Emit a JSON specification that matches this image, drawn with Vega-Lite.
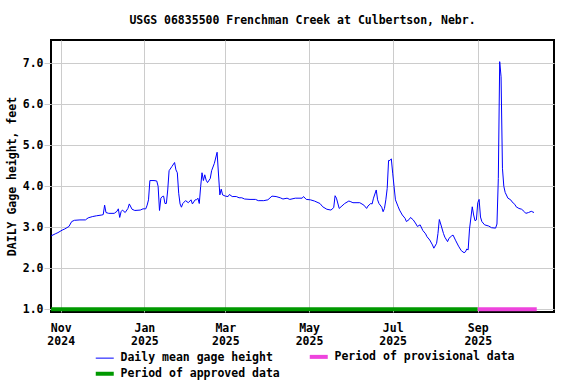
{
  "$schema": "https://vega.github.io/schema/vega-lite/v6.json",
  "width": 503,
  "height": 272,
  "autosize": {"type": "none"},
  "padding": {"left": 51, "top": 40, "right": 22, "bottom": 72},
  "background": "white",
  "config": {
    "font": "DejaVu Sans Mono",
    "view": {"stroke": "black", "strokeWidth": 2},
    "axis": {
      "labelFont": "DejaVu Sans Mono", "labelFontSize": 11.5, "labelFontWeight": "bold", "labelColor": "black",
      "titleFont": "DejaVu Sans Mono", "titleFontSize": 11.5, "titleFontWeight": "bold", "titleColor": "black",
      "gridColor": "#cccccc", "gridOpacity": 1, "gridWidth": 1, "domain": false
    }
  },
  "title": {
    "text": "USGS 06835500 Frenchman Creek at Culbertson, Nebr.",
    "font": "DejaVu Sans Mono", "fontSize": 11.5, "fontWeight": "bold", "color": "black",
    "anchor": "middle", "offset": 5, "baseline": "alphabetic"
  },
  "datasets": {
    "periods": [
      {"d": "2024-10-25", "d2": "2025-09-01", "series": "Period of approved data"},
      {"d": "2025-09-01", "d2": "2025-10-14", "series": "Period of provisional data"}
    ],
    "gage": [
      {"d": "2024-10-25", "v": 2.79}, {"d": "2024-10-28", "v": 2.84}, {"d": "2024-10-30", "v": 2.87},
      {"d": "2024-11-02", "v": 2.93}, {"d": "2024-11-04", "v": 2.96}, {"d": "2024-11-07", "v": 3.02},
      {"d": "2024-11-09", "v": 3.14}, {"d": "2024-11-11", "v": 3.17}, {"d": "2024-11-15", "v": 3.18},
      {"d": "2024-11-19", "v": 3.18}, {"d": "2024-11-21", "v": 3.23}, {"d": "2024-11-24", "v": 3.26},
      {"d": "2024-11-27", "v": 3.28}, {"d": "2024-12-01", "v": 3.30}, {"d": "2024-12-02", "v": 3.31},
      {"d": "2024-12-03", "v": 3.54}, {"d": "2024-12-04", "v": 3.36}, {"d": "2024-12-06", "v": 3.34},
      {"d": "2024-12-10", "v": 3.34}, {"d": "2024-12-12", "v": 3.39}, {"d": "2024-12-13", "v": 3.45},
      {"d": "2024-12-14", "v": 3.24}, {"d": "2024-12-15", "v": 3.38}, {"d": "2024-12-16", "v": 3.42},
      {"d": "2024-12-18", "v": 3.36}, {"d": "2024-12-20", "v": 3.46}, {"d": "2024-12-21", "v": 3.57},
      {"d": "2024-12-23", "v": 3.44}, {"d": "2024-12-25", "v": 3.41}, {"d": "2024-12-29", "v": 3.42},
      {"d": "2024-12-31", "v": 3.45}, {"d": "2025-01-02", "v": 3.45}, {"d": "2025-01-03", "v": 3.54},
      {"d": "2025-01-04", "v": 3.67}, {"d": "2025-01-05", "v": 4.14}, {"d": "2025-01-08", "v": 4.14},
      {"d": "2025-01-10", "v": 4.13}, {"d": "2025-01-11", "v": 4.00}, {"d": "2025-01-12", "v": 3.41},
      {"d": "2025-01-13", "v": 3.71}, {"d": "2025-01-14", "v": 3.75}, {"d": "2025-01-15", "v": 3.76},
      {"d": "2025-01-16", "v": 3.58}, {"d": "2025-01-17", "v": 3.58}, {"d": "2025-01-18", "v": 3.91},
      {"d": "2025-01-19", "v": 4.38}, {"d": "2025-01-21", "v": 4.48}, {"d": "2025-01-23", "v": 4.58},
      {"d": "2025-01-24", "v": 4.40}, {"d": "2025-01-25", "v": 4.33}, {"d": "2025-01-26", "v": 3.83},
      {"d": "2025-01-27", "v": 3.57}, {"d": "2025-01-28", "v": 3.49}, {"d": "2025-01-29", "v": 3.58},
      {"d": "2025-01-31", "v": 3.65}, {"d": "2025-02-02", "v": 3.60}, {"d": "2025-02-04", "v": 3.67},
      {"d": "2025-02-05", "v": 3.57}, {"d": "2025-02-07", "v": 3.67}, {"d": "2025-02-08", "v": 3.67},
      {"d": "2025-02-09", "v": 3.71}, {"d": "2025-02-10", "v": 3.58}, {"d": "2025-02-11", "v": 3.99},
      {"d": "2025-02-12", "v": 4.33}, {"d": "2025-02-13", "v": 4.14}, {"d": "2025-02-14", "v": 4.28},
      {"d": "2025-02-15", "v": 4.15}, {"d": "2025-02-16", "v": 4.09}, {"d": "2025-02-18", "v": 4.19},
      {"d": "2025-02-19", "v": 4.38}, {"d": "2025-02-21", "v": 4.56}, {"d": "2025-02-23", "v": 4.83},
      {"d": "2025-02-24", "v": 4.30}, {"d": "2025-02-25", "v": 3.79}, {"d": "2025-02-26", "v": 3.93},
      {"d": "2025-02-27", "v": 3.79}, {"d": "2025-03-01", "v": 3.76}, {"d": "2025-03-03", "v": 3.75},
      {"d": "2025-03-04", "v": 3.80}, {"d": "2025-03-06", "v": 3.75}, {"d": "2025-03-09", "v": 3.75},
      {"d": "2025-03-11", "v": 3.72}, {"d": "2025-03-13", "v": 3.72}, {"d": "2025-03-15", "v": 3.69},
      {"d": "2025-03-19", "v": 3.68}, {"d": "2025-03-23", "v": 3.68}, {"d": "2025-03-25", "v": 3.65},
      {"d": "2025-03-29", "v": 3.65}, {"d": "2025-04-01", "v": 3.67}, {"d": "2025-04-04", "v": 3.76},
      {"d": "2025-04-07", "v": 3.75}, {"d": "2025-04-10", "v": 3.72}, {"d": "2025-04-12", "v": 3.69},
      {"d": "2025-04-15", "v": 3.71}, {"d": "2025-04-17", "v": 3.68}, {"d": "2025-04-21", "v": 3.71},
      {"d": "2025-04-26", "v": 3.71}, {"d": "2025-04-27", "v": 3.75}, {"d": "2025-04-29", "v": 3.68},
      {"d": "2025-05-02", "v": 3.67}, {"d": "2025-05-05", "v": 3.64}, {"d": "2025-05-09", "v": 3.58},
      {"d": "2025-05-11", "v": 3.50}, {"d": "2025-05-14", "v": 3.44}, {"d": "2025-05-17", "v": 3.42},
      {"d": "2025-05-19", "v": 3.48}, {"d": "2025-05-20", "v": 3.77}, {"d": "2025-05-21", "v": 3.71},
      {"d": "2025-05-23", "v": 3.46}, {"d": "2025-05-25", "v": 3.52}, {"d": "2025-05-27", "v": 3.58},
      {"d": "2025-05-30", "v": 3.64}, {"d": "2025-05-31", "v": 3.63}, {"d": "2025-06-02", "v": 3.60},
      {"d": "2025-06-07", "v": 3.60}, {"d": "2025-06-10", "v": 3.54}, {"d": "2025-06-12", "v": 3.46},
      {"d": "2025-06-13", "v": 3.52}, {"d": "2025-06-15", "v": 3.58}, {"d": "2025-06-16", "v": 3.57},
      {"d": "2025-06-17", "v": 3.71}, {"d": "2025-06-19", "v": 3.91}, {"d": "2025-06-20", "v": 3.67},
      {"d": "2025-06-21", "v": 3.58}, {"d": "2025-06-23", "v": 3.49}, {"d": "2025-06-24", "v": 3.38},
      {"d": "2025-06-25", "v": 3.46}, {"d": "2025-06-26", "v": 3.67}, {"d": "2025-06-27", "v": 3.95},
      {"d": "2025-06-28", "v": 4.63}, {"d": "2025-06-29", "v": 4.63}, {"d": "2025-06-30", "v": 4.67},
      {"d": "2025-07-01", "v": 4.32}, {"d": "2025-07-02", "v": 3.99}, {"d": "2025-07-03", "v": 3.67},
      {"d": "2025-07-05", "v": 3.50}, {"d": "2025-07-06", "v": 3.42}, {"d": "2025-07-08", "v": 3.30},
      {"d": "2025-07-10", "v": 3.22}, {"d": "2025-07-11", "v": 3.14}, {"d": "2025-07-13", "v": 3.19},
      {"d": "2025-07-14", "v": 3.24}, {"d": "2025-07-16", "v": 3.18}, {"d": "2025-07-18", "v": 3.08},
      {"d": "2025-07-19", "v": 3.02}, {"d": "2025-07-21", "v": 3.06}, {"d": "2025-07-23", "v": 2.92},
      {"d": "2025-07-25", "v": 2.84}, {"d": "2025-07-26", "v": 2.77}, {"d": "2025-07-28", "v": 2.69},
      {"d": "2025-07-30", "v": 2.57}, {"d": "2025-07-31", "v": 2.49}, {"d": "2025-08-02", "v": 2.61},
      {"d": "2025-08-03", "v": 2.85}, {"d": "2025-08-04", "v": 3.19}, {"d": "2025-08-05", "v": 3.08},
      {"d": "2025-08-07", "v": 2.85}, {"d": "2025-08-08", "v": 2.76}, {"d": "2025-08-10", "v": 2.65},
      {"d": "2025-08-11", "v": 2.73}, {"d": "2025-08-13", "v": 2.79}, {"d": "2025-08-14", "v": 2.81},
      {"d": "2025-08-16", "v": 2.67}, {"d": "2025-08-18", "v": 2.54}, {"d": "2025-08-20", "v": 2.43},
      {"d": "2025-08-22", "v": 2.38}, {"d": "2025-08-23", "v": 2.40}, {"d": "2025-08-24", "v": 2.47},
      {"d": "2025-08-25", "v": 2.45}, {"d": "2025-08-26", "v": 2.96}, {"d": "2025-08-28", "v": 3.50},
      {"d": "2025-08-29", "v": 3.30}, {"d": "2025-08-30", "v": 3.16}, {"d": "2025-08-31", "v": 3.18},
      {"d": "2025-09-01", "v": 3.60}, {"d": "2025-09-02", "v": 3.68}, {"d": "2025-09-03", "v": 3.25},
      {"d": "2025-09-04", "v": 3.14}, {"d": "2025-09-06", "v": 3.06}, {"d": "2025-09-09", "v": 3.03},
      {"d": "2025-09-11", "v": 2.99}, {"d": "2025-09-14", "v": 2.98}, {"d": "2025-09-15", "v": 3.08},
      {"d": "2025-09-16", "v": 4.19}, {"d": "2025-09-17", "v": 7.04}, {"d": "2025-09-18", "v": 6.67},
      {"d": "2025-09-19", "v": 4.44}, {"d": "2025-09-20", "v": 4.00}, {"d": "2025-09-21", "v": 3.85},
      {"d": "2025-09-23", "v": 3.71}, {"d": "2025-09-25", "v": 3.67}, {"d": "2025-09-26", "v": 3.62},
      {"d": "2025-09-28", "v": 3.56}, {"d": "2025-09-29", "v": 3.50}, {"d": "2025-10-01", "v": 3.46},
      {"d": "2025-10-03", "v": 3.44}, {"d": "2025-10-05", "v": 3.38}, {"d": "2025-10-06", "v": 3.34},
      {"d": "2025-10-08", "v": 3.36}, {"d": "2025-10-10", "v": 3.39}, {"d": "2025-10-12", "v": 3.36}
    ]
  },
  "encoding": {
    "x": {
      "field": "d", "type": "temporal",
      "scale": {"type": "utc", "domain": [
        {"year": 2024, "month": 10, "date": 24, "hours": 22, "utc": true},
        {"year": 2025, "month": 10, "date": 26, "hours": 14, "utc": true}
      ]},
      "axis": {
        "title": null, "grid": true, "ticks": false, "labelPadding": 10, "labelLineHeight": 13.5,
        "values": [
          {"year": 2024, "month": 11, "date": 1, "utc": true},
          {"year": 2025, "month": 1, "date": 1, "utc": true},
          {"year": 2025, "month": 3, "date": 1, "utc": true},
          {"year": 2025, "month": 5, "date": 1, "utc": true},
          {"year": 2025, "month": 7, "date": 1, "utc": true},
          {"year": 2025, "month": 9, "date": 1, "utc": true}
        ],
        "labelExpr": "[utcFormat(datum.value, '%b'), utcFormat(datum.value, '%Y')]"
      }
    }
  },
  "layer": [
    {
      "data": {"name": "periods"},
      "mark": {"type": "rule", "strokeWidth": 4},
      "encoding": {
        "x2": {"field": "d2"},
        "y": {"datum": 1, "type": "quantitative"},
        "color": {
          "field": "series", "type": "nominal",
          "sort": null,
          "scale": {"domain": ["Daily mean gage height", "Period of approved data", "Period of provisional data"], "range": ["#0000ff", "#009900", "#ee44dd"]},
          "legend": {
            "orient": "none", "legendX": 48, "legendY": 311, "columns": 2, "columnPadding": 21, "rowPadding": 0,
            "title": null, "symbolType": "stroke", "symbolSize": 324,
            "symbolStrokeWidth": {"expr": "datum.label === 'Daily mean gage height' ? 1 : 4"},
            "labelFont": "DejaVu Sans Mono",
            "labelFontSize": 11.5, "labelFontWeight": "bold", "labelColor": "black", "labelOffset": 10,
            "labelLimit": 300, "padding": 0
          }
        }
      }
    },
    {
      "data": {"name": "gage"},
      "mark": {"type": "line", "strokeWidth": 1, "color": "#0000ff"},
      "encoding": {
        "y": {
          "field": "v", "type": "quantitative",
          "scale": {"domain": [0.934, 7.568], "nice": false, "zero": false},
          "axis": {
            "title": "DAILY Gage height, feet", "values": [1, 2, 3, 4, 5, 6, 7], "format": ".1f", "grid": true,
            "tickColor": "#cccccc", "tickSize": 7, "labelPadding": 1, "titlePadding": 5
          }
        }
      }
    }
  ]
}
